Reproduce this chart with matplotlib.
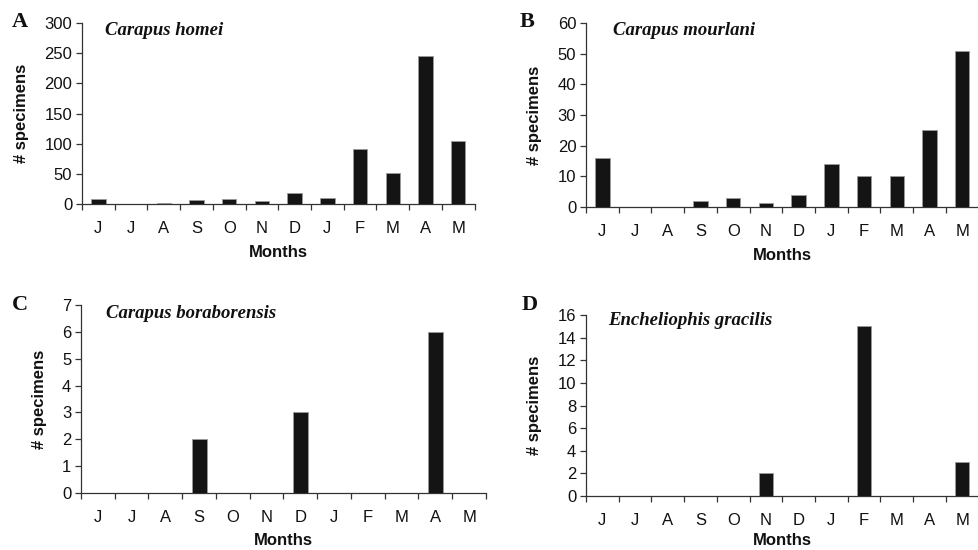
from matplotlib import pyplot as plt
import numpy as np

months = ['J', 'J', 'A', 'S', 'O', 'N', 'D', 'J', 'F', 'M', 'A', 'M']

homei = [8, 0, 2, 6, 8, 5, 19, 10, 91, 51, 245, 105]
mourlani = [16, 0, 0, 2, 3, 1.2, 4, 14, 10, 10, 25, 51]
boraborensis = [0, 0, 0, 2, 0, 0, 3, 0, 0, 0, 6, 0]
gracilis = [0, 0, 0, 0, 0, 2, 0, 0, 15, 0, 0, 3]

species = ['Carapus homei', 'Carapus mourlani', 'Carapus boraborensis', 'Encheliophis gracilis']
letters = ['A', 'B', 'C', 'D']
ymax = [300, 60, 7, 16]
ystep = [50, 10, 1, 2]

plt.rcParams['font.family'] = ['Liberation Sans', 'DejaVu Sans']

fig = plt.figure(figsize=(9.79, 5.5), dpi=100)

# axes rectangles [left, bottom, width, height] in figure fraction
rects = [
	[0.0838, 0.629, 0.401, 0.329],
	[0.5986, 0.6236, 0.4009, 0.3345],
	[0.0827, 0.1036, 0.4137, 0.3419],
	[0.5986, 0.098, 0.4009, 0.329],
]
title_pos = [(0.058, 0.961), (0.069, 0.962), (0.062, 0.957), (0.056, 0.972)]
letter_pos = [(12, 22), (520, 22), (12, 305), (522, 305)]
xlabel_pad = [7, 7, 6, 4]

data = [homei, mourlani, boraborensis, gracilis]
x = np.arange(len(months))

for i in range(4):
	ax = fig.add_axes(rects[i])
	ax.bar(x, data[i], width=0.44, color='#141414', edgecolor='#9a9a9a', linewidth=0.6, zorder=3)
	ax.set_xlim(-0.5, len(months) - 0.5)
	ax.set_ylim(0, ymax[i])
	ax.set_yticks(np.arange(0, ymax[i] + ystep[i] / 2, ystep[i]))
	ax.spines['top'].set_visible(False)
	ax.spines['right'].set_visible(False)
	for s in ['left', 'bottom']:
		ax.spines[s].set_color('#333333')
		ax.spines[s].set_linewidth(0.9)
	# boundary ticks without labels, labels at centers
	ax.set_xticks(np.arange(-0.5, len(months), 1))
	ax.set_xticklabels([])
	ax.set_xticks(x, minor=True)
	ax.set_xticklabels(months, minor=True)
	ax.tick_params(axis='x', which='major', direction='out', length=4, width=0.9, color='#333333')
	ax.tick_params(axis='x', which='minor', length=0, pad=12, labelsize=12, labelcolor='#111111')
	ax.tick_params(axis='y', direction='out', length=4, width=0.9, color='#333333', pad=3,
				   labelsize=12, labelcolor='#111111')
	ax.set_xlabel('Months', fontsize=12, fontweight='bold', labelpad=xlabel_pad[i], color='#111111')
	ax.set_ylabel('# specimens', fontsize=12, fontweight='bold', labelpad=11, color='#111111')
	ax.text(title_pos[i][0], title_pos[i][1], species[i], transform=ax.transAxes,
			family='Liberation Serif', style='italic', fontweight='bold', fontsize=13.5,
			va='center', ha='left', color='#111111')
	fig.text(letter_pos[i][0] / 979, 1 - letter_pos[i][1] / 550, letters[i],
			 family='Liberation Serif', fontweight='bold', fontsize=16, va='center', ha='left',
			 color='#111111')

fig.savefig('out.png', dpi=100)
